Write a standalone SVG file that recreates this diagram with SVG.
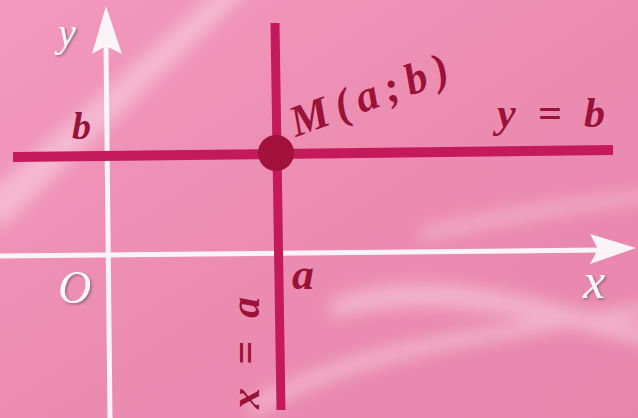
<svg xmlns="http://www.w3.org/2000/svg" width="638" height="418" viewBox="0 0 638 418">
<defs>
<linearGradient id="bg" x1="0" y1="0" x2="1" y2="1">
<stop offset="0" stop-color="#f29abd"/>
<stop offset="0.5" stop-color="#ec8cb1"/>
<stop offset="1" stop-color="#e886ac"/>
</linearGradient>
<filter id="blur" x="-20%" y="-20%" width="140%" height="140%"><feGaussianBlur stdDeviation="8"/></filter>
<filter id="emb" x="-20%" y="-20%" width="150%" height="150%"><feDropShadow dx="1.5" dy="1.5" stdDeviation="1" flood-color="#7d5c68" flood-opacity="0.8"/></filter>
<style>
.axis{stroke:#fbf4f7;stroke-width:5;fill:none}
.head{fill:#fbf4f7}
.crim{stroke:#c41a5a;fill:none}
.lab{font-family:"Liberation Serif",serif;font-style:italic;font-weight:bold;fill:#9b1238}
.ax{font-family:"Liberation Serif",serif;font-style:italic;fill:#fdf7fa;filter:url(#emb)}
</style>
</defs>
<rect width="638" height="418" fill="url(#bg)"/>
<g opacity="0.35" filter="url(#blur)">
<path d="M-20 200 L230 -20 L260 -20 L0 230 Z" fill="#fff"/>
<path d="M330 300 C430 260 540 300 660 330 L660 350 C540 320 430 290 330 320 Z" fill="#fff"/>
<path d="M250 400 C380 330 500 330 660 300 L660 312 C500 345 380 345 250 418 Z" fill="#fff"/>
<path d="M420 230 C500 210 560 200 660 190 L660 200 C560 210 500 225 420 240 Z" fill="#fff"/>
</g>
<g id="axes">
<line class="axis" x1="0" y1="256" x2="600" y2="250"/>
<path class="head" d="M636 248 L590 234 L598 249 L590 264 Z"/>
<line class="axis" x1="110" y1="418" x2="106" y2="45"/>
<path class="head" d="M106 6 L92 54 L106 46 L122 54 Z"/>
</g>
<g id="lines">
<line class="crim" x1="13" y1="157" x2="613" y2="150" stroke-width="10"/>
<line class="crim" x1="275" y1="23" x2="281" y2="410" stroke-width="9"/>
</g>
<g id="point-M">
<circle cx="276" cy="153" r="18" fill="#a3123c"/>
</g>
<g id="labels">
<text class="ax" x="58" y="46" font-size="40">y</text>
<text class="ax" x="58" y="303" font-size="46">O</text>
<text class="ax" x="583" y="298" font-size="50">x</text>
<text class="lab" x="72" y="139" font-size="38">b</text>
<text class="lab" x="292" y="289" font-size="44">a</text>
<text class="lab" x="497" y="127" font-size="42" textLength="108" lengthAdjust="spacing">y = b</text>
<text class="lab" font-size="44" transform="translate(296,137) rotate(-20)" font-style="normal" textLength="166" lengthAdjust="spacing">M(<tspan font-style="italic">a</tspan>;b)</text>
<text class="lab" font-size="42" transform="translate(259,409) rotate(-90)" textLength="112" lengthAdjust="spacing">x = a</text>
</g>
</svg>
